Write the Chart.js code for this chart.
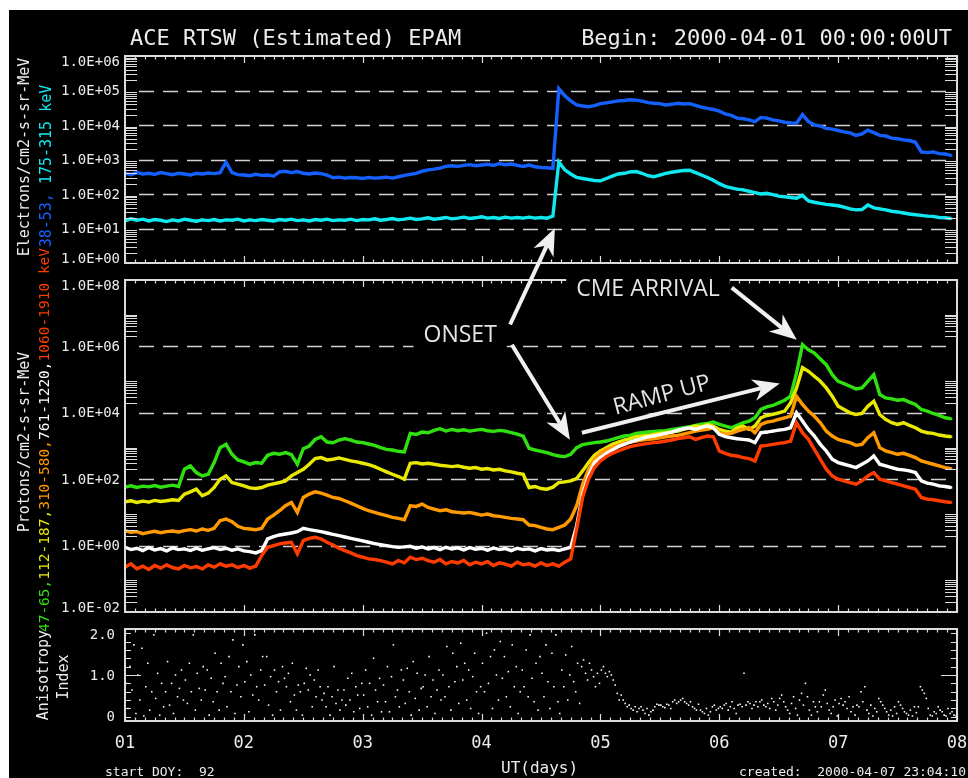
<!DOCTYPE html>
<html><head><meta charset="utf-8">
<script src="https://cdn.jsdelivr.net/npm/chart.js@4.4.1/dist/chart.umd.min.js"></script>
<style>
html,body{margin:0;padding:0;background:#fff;width:968px;height:778px;overflow:hidden;position:relative;}
#bg{position:absolute;left:9px;top:10px;width:959px;height:768px;background:#000;}
canvas{position:absolute;left:0;top:0;}
.t{position:absolute;color:#ececec;font-family:"DejaVu Sans Mono",monospace;white-space:pre;}
.rot{transform:rotate(-90deg);transform-origin:center center;text-align:center;width:500px;height:20px;line-height:20px;font-size:15px;}
</style></head>
<body>
<div id="bg"></div>
<canvas id="cE" width="968" height="778"></canvas>
<canvas id="cP" width="968" height="778"></canvas>
<canvas id="cA" width="968" height="778"></canvas>

<div class="t" style="left:130px;top:27px;font-size:22px;line-height:22px;">ACE RTSW (Estimated) EPAM</div>
<div class="t" style="right:16px;top:27px;font-size:22px;line-height:22px;">Begin: 2000-04-01 00:00:00UT</div>

<div class="t rot" style="left:-226px;top:147px;">Electrons/cm2-s-sr-MeV</div>
<div class="t rot" style="left:-204px;top:156px;"><span style="color:#1560ff">38-53,</span><span style="color:#10e8f0"> 175-315 keV</span></div>
<div class="t rot" style="left:-226px;top:432px;">Protons/cm2-s-sr-MeV</div>
<div class="t rot" style="left:-206px;top:430px;font-size:14.5px;"><span style="color:#30e010">47-65,</span><span style="color:#e8e800">112-187,</span><span style="color:#ff9a00">310-580,</span><span style="color:#ffffff">761-1220,</span><span style="color:#ff3c00">1060-1910 keV</span></div>
<div class="t rot" style="left:-207px;top:665px;">Anisotropy</div>
<div class="t rot" style="left:-187px;top:667px;">Index</div>

<div class="t" style="left:501px;top:759px;font-size:16px;line-height:18px;">UT(days)</div>
<div class="t" style="left:105px;top:764px;font-size:13px;line-height:15px;">start DOY:  92</div>
<div class="t" style="right:2px;top:764px;font-size:13px;line-height:15px;">created:  2000-04-07 23:04:10</div>

<script>
// ---------- time grid for electron / proton series (day of April 2000) ----------
const days = [
1.00,1.05,1.10,1.15,1.20,1.25,1.30,1.35,1.40,1.45,1.50,1.55,1.60,1.65,1.70,1.75,1.80,1.85,1.90,1.95,
2.00,2.05,2.10,2.15,2.20,2.25,2.30,2.35,2.40,2.45,2.50,2.55,2.60,2.65,2.70,2.75,2.80,2.85,2.90,2.95,
3.00,3.05,3.10,3.15,3.20,3.25,3.30,3.35,3.40,3.45,3.50,3.55,3.60,3.65,3.70,3.75,3.80,3.85,3.90,3.95,
4.00,4.05,4.10,4.15,4.20,4.25,4.30,4.35,4.40,4.45,4.50,4.55,4.60,4.65,4.70,4.75,4.80,4.85,4.90,4.95,
5.00,5.05,5.10,5.15,5.20,5.25,5.30,5.35,5.40,5.45,5.50,5.55,5.60,5.65,5.70,5.75,5.80,5.85,5.90,5.95,
6.00,6.05,6.10,6.15,6.20,6.25,6.30,6.35,6.40,6.45,6.50,6.55,6.60,6.65,6.70,6.75,6.80,6.85,6.90,6.95,
7.00,7.05,7.10,7.15,7.20,7.25,7.30,7.35,7.40,7.45,7.50,7.55,7.60,7.65,7.70,7.75,7.80,7.85,7.90,7.95];

// ---------- electron fluxes, log10(/cm2-s-sr-MeV) ----------
const electron38_53Log = [
2.60,2.56,2.62,2.58,2.60,2.57,2.62,2.59,2.56,2.60,2.58,2.55,2.60,2.58,2.61,2.59,2.62,2.92,2.62,2.56,
2.55,2.53,2.57,2.54,2.55,2.52,2.64,2.66,2.62,2.65,2.60,2.58,2.61,2.59,2.55,2.47,2.49,2.46,2.48,2.47,
2.45,2.48,2.46,2.47,2.49,2.46,2.50,2.54,2.57,2.60,2.66,2.70,2.72,2.75,2.80,2.82,2.80,2.83,2.85,2.82,
2.84,2.86,2.83,2.88,2.85,2.87,2.83,2.80,2.84,2.79,2.77,2.76,2.74,5.05,4.85,4.70,4.58,4.55,4.53,4.56,
4.62,4.64,4.67,4.70,4.71,4.73,4.72,4.69,4.65,4.63,4.62,4.58,4.60,4.63,4.61,4.62,4.57,4.52,4.48,4.45,
4.40,4.32,4.28,4.20,4.18,4.15,4.10,4.22,4.20,4.15,4.12,4.08,4.06,4.05,4.30,4.10,4.00,3.97,3.90,3.88,
3.84,3.80,3.77,3.70,3.74,3.85,3.78,3.70,3.68,3.62,3.60,3.57,3.55,3.50,3.22,3.20,3.22,3.17,3.16,3.12];
const electron175_315Log = [
1.22,1.28,1.24,1.27,1.22,1.26,1.24,1.20,1.25,1.22,1.27,1.24,1.21,1.25,1.23,1.26,1.22,1.25,1.24,1.27,
1.22,1.25,1.23,1.26,1.24,1.22,1.26,1.24,1.27,1.23,1.25,1.22,1.26,1.24,1.27,1.23,1.25,1.24,1.27,1.23,
1.26,1.25,1.28,1.24,1.26,1.29,1.25,1.27,1.30,1.26,1.28,1.31,1.27,1.29,1.32,1.28,1.30,1.33,1.29,1.31,
1.34,1.30,1.32,1.29,1.33,1.30,1.32,1.30,1.33,1.30,1.32,1.30,1.36,2.93,2.70,2.58,2.48,2.45,2.42,2.39,
2.38,2.45,2.52,2.58,2.60,2.64,2.65,2.60,2.53,2.50,2.55,2.60,2.63,2.66,2.68,2.69,2.62,2.55,2.48,2.40,
2.30,2.22,2.18,2.14,2.12,2.08,2.04,2.00,2.02,1.98,1.94,1.92,1.90,1.88,1.96,1.80,1.76,1.73,1.70,1.68,
1.66,1.62,1.57,1.54,1.55,1.68,1.60,1.57,1.54,1.50,1.48,1.45,1.42,1.40,1.38,1.36,1.35,1.32,1.31,1.29];

// ---------- proton fluxes, log10(/cm2-s-sr-MeV) ----------
const proton47_65Log = [
1.76,1.80,1.75,1.79,1.77,1.81,1.76,1.79,1.82,1.78,2.30,2.40,2.20,2.10,2.15,2.50,2.95,3.05,2.75,2.58,
2.52,2.45,2.50,2.48,2.72,2.78,2.75,2.80,2.74,2.45,2.92,3.00,3.20,3.28,3.12,3.10,3.18,3.22,3.18,3.12,
3.10,3.06,3.02,2.95,2.90,2.88,2.84,2.82,3.38,3.35,3.42,3.40,3.47,3.52,3.45,3.50,3.46,3.49,3.45,3.48,
3.50,3.46,3.44,3.47,3.45,3.40,3.36,3.30,2.93,2.88,2.84,2.80,2.74,2.70,2.68,2.75,2.95,3.04,3.07,3.10,
3.12,3.15,3.20,3.25,3.30,3.32,3.38,3.40,3.42,3.44,3.45,3.46,3.50,3.52,3.55,3.58,3.62,3.66,3.68,3.72,
3.65,3.60,3.55,3.62,3.70,3.75,3.85,4.10,4.18,4.22,4.30,4.38,4.50,5.20,6.05,5.90,5.80,5.62,5.45,5.15,
4.95,4.88,4.80,4.72,4.75,4.95,5.15,4.55,4.45,4.42,4.38,4.40,4.32,4.25,4.10,4.05,3.98,3.92,3.85,3.82];
const proton112_187Log = [
1.32,1.35,1.30,1.34,1.31,1.36,1.33,1.35,1.38,1.36,1.55,1.62,1.70,1.50,1.58,1.75,2.00,2.10,1.90,1.85,
1.80,1.74,1.72,1.75,1.82,1.86,1.90,1.95,2.10,2.20,2.30,2.45,2.62,2.65,2.58,2.60,2.64,2.60,2.55,2.52,
2.48,2.44,2.38,2.30,2.22,2.15,2.08,2.00,2.48,2.50,2.46,2.48,2.45,2.42,2.40,2.38,2.40,2.36,2.33,2.35,
2.30,2.32,2.28,2.30,2.25,2.22,2.18,2.15,1.75,1.78,1.72,1.70,1.76,1.90,1.92,1.95,2.02,2.25,2.50,2.72,
2.85,2.95,3.05,3.12,3.18,3.22,3.28,3.30,3.32,3.35,3.38,3.40,3.42,3.45,3.50,3.55,3.60,3.58,3.65,3.60,
3.50,3.45,3.42,3.55,3.60,3.50,3.60,3.85,3.92,3.95,4.00,4.05,4.30,4.75,5.36,5.25,5.10,4.95,4.75,4.50,
4.20,4.10,4.00,3.95,3.98,4.20,4.35,3.95,3.80,3.70,3.65,3.70,3.62,3.55,3.45,3.40,3.38,3.33,3.30,3.28];
const proton310_580Log = [
0.45,0.40,0.42,0.36,0.40,0.43,0.39,0.42,0.44,0.41,0.45,0.48,0.44,0.50,0.46,0.52,0.75,0.80,0.72,0.58,
0.52,0.50,0.48,0.52,0.80,0.92,1.05,1.20,1.30,1.00,1.45,1.55,1.62,1.58,1.52,1.45,1.42,1.35,1.28,1.20,
1.12,1.05,1.00,0.95,0.90,0.85,0.82,0.78,1.20,1.18,1.25,1.15,1.10,1.05,1.08,1.02,1.00,0.98,1.00,0.96,
0.92,0.95,0.90,0.88,0.85,0.82,0.80,0.78,0.62,0.60,0.55,0.50,0.48,0.55,0.62,0.80,1.20,1.85,2.30,2.60,
2.78,2.90,2.96,3.02,3.08,3.12,3.15,3.18,3.20,3.22,3.25,3.28,3.30,3.32,3.36,3.40,3.45,3.48,3.50,3.55,
3.40,3.35,3.38,3.45,3.50,3.55,3.40,3.65,3.72,3.75,3.80,3.85,3.90,4.50,4.25,4.05,3.90,3.70,3.45,3.30,
3.20,3.15,3.10,3.02,3.05,3.25,3.40,2.95,2.85,2.80,2.75,2.78,2.72,2.65,2.55,2.50,2.45,2.40,2.35,2.32];
const proton761_1220Log = [
-0.05,-0.12,-0.08,-0.15,-0.06,-0.13,-0.09,-0.16,-0.07,-0.12,-0.10,-0.15,-0.08,-0.14,-0.10,-0.06,-0.12,-0.08,-0.14,-0.10,
-0.16,-0.18,-0.22,-0.15,0.20,0.27,0.32,0.35,0.38,0.42,0.52,0.48,0.45,0.42,0.38,0.34,0.30,0.26,0.22,0.18,
0.14,0.10,0.06,0.03,0.00,-0.03,-0.05,-0.04,-0.02,-0.08,-0.04,-0.10,-0.06,-0.12,-0.05,-0.10,-0.07,-0.13,-0.06,-0.11,
-0.08,-0.14,-0.07,-0.12,-0.09,-0.15,-0.08,-0.12,-0.10,-0.16,-0.09,-0.13,-0.11,-0.15,-0.10,-0.05,0.60,1.55,2.10,2.50,
2.65,2.78,2.88,2.98,3.05,3.12,3.18,3.22,3.28,3.30,3.34,3.38,3.42,3.48,3.52,3.55,3.50,3.56,3.60,3.55,
3.35,3.28,3.25,3.22,3.20,3.18,3.10,3.40,3.42,3.45,3.48,3.50,3.55,4.00,3.75,3.50,3.30,3.05,2.85,2.60,
2.50,2.45,2.40,2.35,2.45,2.55,2.70,2.45,2.40,2.35,2.30,2.28,2.25,2.20,1.95,1.88,1.85,1.80,1.78,1.75];
const proton1060_1910Log = [
-0.65,-0.55,-0.70,-0.62,-0.72,-0.60,-0.68,-0.58,-0.66,-0.70,-0.60,-0.67,-0.63,-0.70,-0.58,-0.65,-0.55,-0.62,-0.58,-0.66,
-0.60,-0.68,-0.62,-0.30,-0.05,0.00,0.05,0.08,0.10,-0.25,0.15,0.22,0.25,0.20,0.10,0.02,-0.08,-0.15,-0.22,-0.30,
-0.35,-0.40,-0.42,-0.45,-0.50,-0.55,-0.45,-0.52,-0.35,-0.42,-0.38,-0.45,-0.50,-0.42,-0.55,-0.48,-0.52,-0.45,-0.58,-0.50,
-0.55,-0.48,-0.60,-0.52,-0.56,-0.62,-0.50,-0.58,-0.55,-0.62,-0.52,-0.60,-0.55,-0.62,-0.50,-0.40,0.50,1.45,2.00,2.35,
2.55,2.68,2.78,2.85,2.92,2.98,3.02,3.05,3.08,3.10,3.12,3.15,3.18,3.22,3.25,3.28,3.20,3.25,3.30,3.28,
2.85,2.78,2.72,2.70,2.65,2.62,2.55,3.00,3.02,3.05,3.08,3.10,3.15,3.70,3.40,3.20,2.90,2.60,2.30,2.10,
2.00,1.95,1.90,1.85,1.95,2.10,2.20,2.00,1.95,1.90,1.85,1.80,1.75,1.70,1.45,1.40,1.38,1.35,1.32,1.30];

// ---------- anisotropy index ----------
const anisoDay = [
1.008,1.025,1.042,1.058,1.075,1.092,1.108,1.125,1.142,1.158,1.175,1.192,1.208,1.225,1.242,1.258,1.275,1.292,1.308,1.325,1.342,1.358,1.375,1.392,1.408,1.425,1.442,1.458,1.475,1.492,1.508,1.525,1.542,1.558,1.575,1.592,1.608,1.625,1.642,1.658,1.675,1.692,1.708,1.725,1.742,1.758,1.775,1.792,1.808,1.825,1.842,1.858,1.875,1.892,1.908,1.925,1.942,1.958,1.975,1.992,
2.008,2.025,2.042,2.058,2.075,2.092,2.108,2.125,2.142,2.158,2.175,2.192,2.208,2.225,2.242,2.258,2.275,2.292,2.308,2.325,2.342,2.358,2.375,2.392,2.408,2.425,2.442,2.458,2.475,2.492,2.508,2.525,2.542,2.558,2.575,2.592,2.608,2.625,2.642,2.658,2.675,2.692,2.708,2.725,2.742,2.758,2.775,2.792,2.808,2.825,2.842,2.858,2.875,2.892,2.908,2.925,2.942,2.958,2.975,2.992,
3.008,3.025,3.042,3.058,3.075,3.092,3.108,3.125,3.142,3.158,3.175,3.192,3.208,3.225,3.242,3.258,3.275,3.292,3.308,3.325,3.342,3.358,3.375,3.392,3.408,3.425,3.442,3.458,3.475,3.492,3.508,3.525,3.542,3.558,3.575,3.592,3.608,3.625,3.642,3.658,3.675,3.692,3.708,3.725,3.742,3.758,3.775,3.792,3.808,3.825,3.842,3.858,3.875,3.892,3.908,3.925,3.942,3.958,3.975,3.992,
4.008,4.025,4.042,4.058,4.075,4.092,4.108,4.125,4.142,4.158,4.175,4.192,4.208,4.225,4.242,4.258,4.275,4.292,4.308,4.325,4.342,4.358,4.375,4.392,4.408,4.425,4.442,4.458,4.475,4.492,4.508,4.525,4.542,4.558,4.575,4.592,4.608,4.625,4.642,4.658,4.675,4.692,4.708,4.725,4.742,4.758,4.775,4.792,4.808,4.825,4.842,4.858,4.875,4.892,4.908,4.925,4.942,4.958,4.975,4.992,
5.008,5.025,5.042,5.058,5.075,5.092,5.108,5.125,5.142,5.158,5.175,5.192,5.208,5.225,5.242,5.258,5.275,5.292,5.308,5.325,5.342,5.358,5.375,5.392,5.408,5.425,5.442,5.458,5.475,5.492,5.508,5.525,5.542,5.558,5.575,5.592,5.608,5.625,5.642,5.658,5.675,5.692,5.708,5.725,5.742,5.758,5.775,5.792,5.808,5.825,5.842,5.858,5.875,5.892,5.908,5.925,5.942,5.958,5.975,5.992,
6.008,6.025,6.042,6.058,6.075,6.092,6.108,6.125,6.142,6.158,6.175,6.192,6.208,6.225,6.242,6.258,6.275,6.292,6.308,6.325,6.342,6.358,6.375,6.392,6.408,6.425,6.442,6.458,6.475,6.492,6.508,6.525,6.542,6.558,6.575,6.592,6.608,6.625,6.642,6.658,6.675,6.692,6.708,6.725,6.742,6.758,6.775,6.792,6.808,6.825,6.842,6.858,6.875,6.892,6.908,6.925,6.942,6.958,6.975,6.992,
7.008,7.025,7.042,7.058,7.075,7.092,7.108,7.125,7.142,7.158,7.175,7.192,7.208,7.225,7.242,7.258,7.275,7.292,7.308,7.325,7.342,7.358,7.375,7.392,7.408,7.425,7.442,7.458,7.475,7.492,7.508,7.525,7.542,7.558,7.575,7.592,7.608,7.625,7.642,7.658,7.675,7.692,7.708,7.725,7.742,7.758,7.775,7.792,7.808,7.825,7.842,7.858,7.875,7.892,7.908,7.925,7.942,7.958,7.975,7.992];
const anisoIndex = [
0.80,0.20,1.20,0.64,1.72,0.08,1.00,0.40,1.64,0.02, 0.72,1.28,0.16,0.60,1.96,0.44,1.04,0.04,0.80,0.24, 0.60,1.32,0.28,0.80,0.08,1.00,0.48,0.68,1.12,0.40,
0.88,0.32,1.28,0.60,1.96,0.16,1.04,0.68,0.40,1.20, 0.64,1.12,0.04,0.92,0.36,1.52,0.60,0.16,1.28,0.80, 0.96,0.24,1.44,0.60,1.84,0.08,0.76,1.20,0.48,1.72,
0.84,1.32,0.12,1.00,0.52,1.96,0.72,0.40,1.12,1.44, 0.76,1.44,0.28,0.96,0.04,1.12,0.60,0.84,0.16,1.20, 0.92,0.72,1.04,0.36,1.28,0.52,0.16,0.76,0.60,0.04,
0.80,1.16,0.64,1.00,0.24,0.88,0.48,1.12,0.72,0.40, 0.56,0.24,0.72,0.04,0.48,1.20,0.32,0.64,0.16,0.40, 0.64,0.28,0.92,0.40,1.04,0.12,0.72,0.52,0.20,0.80,
0.52,1.12,0.24,0.80,0.04,1.40,0.64,0.36,0.92,0.12, 0.76,0.36,1.20,0.12,0.96,1.72,0.48,0.64,0.24,1.12, 0.88,0.32,1.16,0.60,0.04,1.32,0.44,1.04,0.16,0.68,
0.72,1.00,0.24,1.44,0.48,0.88,0.08,0.64,1.12,0.40, 1.00,0.48,1.68,0.72,0.16,1.52,0.84,1.20,0.32,1.76, 0.88,1.28,0.40,1.12,0.20,0.96,1.52,0.60,0.08,0.72,
1.28,0.60,2.00,0.80,1.44,0.20,1.60,1.00,0.40,1.80, 0.92,1.44,0.48,1.08,0.24,1.72,0.72,1.20,0.08,0.60, 1.12,0.72,1.60,0.48,1.96,0.92,0.36,1.28,0.16,1.44,
1.04,0.48,1.72,0.84,0.20,1.52,0.72,1.96,0.36,0.08, 1.12,0.72,1.48,0.40,1.00,1.68,0.84,0.60,1.28,0.32, 1.20,1.36,1.04,0.88,1.28,1.12,0.96,0.72,1.04,0.80,
1.12,1.20,1.04,0.96,1.08,1.00,0.88,0.76,0.56,0.40, 0.52,0.40,0.32,0.24,0.28,0.20,0.16,0.24,0.12,0.20, 0.24,0.16,0.08,0.20,0.04,0.12,0.16,0.24,0.30,0.28,
0.28,0.24,0.22,0.30,0.28,0.20,0.36,0.40,0.32,0.36, 0.40,0.44,0.36,0.32,0.28,0.36,0.24,0.20,0.16,0.30, 0.16,0.12,0.08,0.20,0.04,0.12,0.24,0.28,0.16,0.20,
0.24,0.20,0.28,0.32,0.16,0.24,0.36,0.20,0.08,0.28, 0.30,0.24,1.04,0.28,0.36,0.32,0.20,0.28,0.36,0.24, 0.36,0.40,0.28,0.24,0.32,0.20,0.44,0.36,0.16,0.28,
0.44,0.52,0.36,0.24,0.16,0.08,0.32,0.48,0.20,0.04, 0.40,0.56,0.28,0.80,0.48,0.16,0.04,0.36,0.24,0.12, 0.36,0.24,0.52,0.64,0.32,0.16,0.08,0.24,0.40,0.02,
0.32,0.44,0.28,0.36,0.20,0.48,0.12,0.24,0.04,0.28, 0.24,0.60,0.36,0.72,0.16,0.08,0.28,0.02,0.20,0.12, 0.44,0.36,0.28,0.20,0.12,0.04,0.16,0.02,0.24,0.08,
0.36,0.28,0.20,0.12,0.08,0.04,0.16,0.02,0.24,0.10, 0.24,0.72,0.64,0.56,0.44,0.20,0.04,0.02,0.12,0.08, 0.24,0.16,0.12,0.04,0.02,0.20,0.08,0.12,0.04,0.02];

// ---------- axis ticks ----------
const dayTicks = [1,2,3,4,5,6,7,8];
const dayTickLabels = ['01','02','03','04','05','06','07','08'];
const electronTicks = [1e0,1e1,1e2,1e3,1e4,1e5,1e6];
const protonTicks = [1e-2,1e0,1e2,1e4,1e6,1e8];
const anisoTicks = [0,1,2];
const anisoTickLabels = ['0','1.0','2.0'];
const anisoMinor = [0,0.2,0.4,0.6,0.8,1.0,1.2,1.4,1.6,1.8,2.0];

// ---------- annotation anchors: [day, log10 value] ----------
const onsetTextAt = [3.82, 6.36];
const onsetUpFrom = [4.24, 6.66], onsetUpTo = [4.617, 1.01];   // tip on electron panel
const onsetDownFrom = [4.255, 6.05], onsetDownTo = [4.743, 3.19];
const cmeTextAt = [5.40, 7.74];
const cmeFrom = [6.105, 7.77], cmeTo = [6.652, 6.20];
const rampTextAt = [5.516, 4.55];
const rampFrom = [4.844, 3.40], rampTo = [6.509, 4.88];

// ---------- helpers ----------
const FONT = '"DejaVu Sans Mono", monospace';
const toPts = (t, lg) => t.map((d, i) => ({ x: d, y: Math.pow(10, lg[i]) }));
const fmtE = v => { const e = Math.round(Math.log10(v)); return '1.0E' + (e < 0 ? '-' : '+') + String(Math.abs(e)).padStart(2, '0'); };
const minorLog = ticks => { const out = []; ticks.slice(0, -1).forEach(t => { for (let k = 2; k <= 9; k++) out.push(t * k); }); return out; };

const framePlugin = {
  id: 'frame',
  beforeDatasetsDraw(chart, args, o) {
    const { ctx, chartArea: c } = chart, y = chart.scales.y;
    ctx.save();
    ctx.strokeStyle = '#d2d2d2'; ctx.lineWidth = 1.6; ctx.setLineDash([15, 9]); ctx.lineDashOffset = -6;
    (o.grid || []).forEach(v => {
      const py = Math.round(y.getPixelForValue(v)) + 0.5;
      ctx.beginPath(); ctx.moveTo(c.left + 8, py); ctx.lineTo(c.right - 10, py); ctx.stroke();
    });
    ctx.restore();
  },
  afterDatasetsDraw(chart, args, o) {
    const { ctx, chartArea: c } = chart, x = chart.scales.x, y = chart.scales.y;
    ctx.save();
    ctx.strokeStyle = '#dcdcdc'; ctx.lineWidth = 2;
    ctx.strokeRect(c.left, c.top, c.right - c.left, c.bottom - c.top);
    ctx.lineWidth = 1.2; ctx.beginPath();
    for (let k = 0; k <= 84; k++) {
      const px = Math.round(x.getPixelForValue(1 + k / 12)) + 0.5, len = (k % 12 === 0) ? 7 : 3.5;
      ctx.moveTo(px, c.top); ctx.lineTo(px, c.top + len);
      ctx.moveTo(px, c.bottom); ctx.lineTo(px, c.bottom - len);
    }
    (o.minor || []).forEach(v => {
      const py = Math.round(y.getPixelForValue(v)) + 0.5, len = (o.major || []).includes(v) ? o.majorLen : o.tickLen;
      ctx.moveTo(c.left, py); ctx.lineTo(c.left + len, py);
      ctx.moveTo(c.right, py); ctx.lineTo(c.right - len, py);
    });
    ctx.stroke();
    ctx.fillStyle = '#ececec'; ctx.font = '14px ' + FONT; ctx.textAlign = 'right'; ctx.textBaseline = 'middle';
    y.ticks.forEach(t => {
      let py = y.getPixelForValue(t.value) + 1;
      py = Math.max(c.top + 6, Math.min(c.bottom - 4, py));
      ctx.fillText(o.fmt(t.value), c.left - o.labelPad, py);
    });
    ctx.restore();
  }
};

function yScale(extra) {
  return Object.assign({
    display: true, ticks: { display: false }, grid: { display: false, drawTicks: false }, border: { display: false },
    afterFit: s => { s.width = 0; }
  }, extra);
}
function baseOptions(pad, y, frame, xAxis) {
  return {
    responsive: false, animation: false, events: [],
    layout: { padding: pad, autoPadding: false },
    plugins: { legend: { display: false }, tooltip: { enabled: false }, frame: frame },
    scales: { x: xAxis || { type: 'linear', min: 1, max: 8, display: false }, y: y }
  };
}
function band(label, t, lg, color, order) {
  return { label, data: toPts(t, lg), borderColor: color, backgroundColor: color, borderWidth: 3.4,
    pointRadius: 1.7, pointStyle: 'rect', pointBorderWidth: 0, showLine: true, tension: 0, order };
}

// ---------- electrons ----------
const elecChart = new Chart(document.getElementById('cE'), {
  type: 'line',
  data: { datasets: [
    band('38-53 keV', days, electron38_53Log, '#1560ff', 1),
    band('175-315 keV', days, electron175_315Log, '#10e8f0', 0)
  ] },
  options: baseOptions({ left: 125, right: 11, top: 56, bottom: 515 },
    yScale({ type: 'logarithmic', min: 1e0, max: 1e6, afterBuildTicks: s => { s.ticks = electronTicks.map(v => ({ value: v })); } }),
    { grid: [1e1, 1e2, 1e3, 1e4, 1e5], minor: minorLog(electronTicks), tickLen: 12, fmt: fmtE, labelPad: 5 }),
  plugins: [framePlugin]
});

// ---------- annotation drawing ----------
function arrow(ctx, x0, y0, x1, y1) {
  const a = Math.atan2(y1 - y0, x1 - x0), ca = Math.cos(a), sa = Math.sin(a);
  const L = 27, W = 11, N = 8;
  const bx = x1 - L * ca, by = y1 - L * sa, nx = x1 - (L - N) * ca, ny = y1 - (L - N) * sa;
  ctx.lineWidth = 4; ctx.lineCap = 'butt';
  ctx.beginPath(); ctx.moveTo(x0, y0); ctx.lineTo(nx, ny); ctx.stroke();
  ctx.beginPath(); ctx.moveTo(x1, y1);
  ctx.lineTo(bx - W * sa, by + W * ca); ctx.lineTo(nx, ny); ctx.lineTo(bx + W * sa, by - W * ca);
  ctx.closePath(); ctx.fill();
}
function boxedText(ctx, txt, x, y, ang) {
  ctx.save(); ctx.translate(x, y); ctx.rotate(ang);
  const w = ctx.measureText(txt).width + 20, h = 30;
  ctx.fillStyle = '#000'; ctx.fillRect(-w / 2, -h / 2, w, h);
  ctx.fillStyle = '#e4e4e4'; ctx.fillText(txt, 0, 1);
  ctx.restore();
}
const annotPlugin = {
  id: 'annot',
  afterDraw(chart) {
    const ctx = chart.ctx, xs = chart.scales.x, yp = chart.scales.y, ye = elecChart.scales.y;
    const P = (p, ys) => [xs.getPixelForValue(p[0]), ys.getPixelForValue(Math.pow(10, p[1]))];
    ctx.save();
    ctx.font = '23px "Open Sans", "Liberation Sans", sans-serif';
    ctx.textAlign = 'center'; ctx.textBaseline = 'middle';
    boxedText(ctx, 'ONSET', ...P(onsetTextAt, yp), 0);
    boxedText(ctx, 'CME ARRIVAL', ...P(cmeTextAt, yp), 0);
    boxedText(ctx, 'RAMP UP', ...P(rampTextAt, yp), -15 * Math.PI / 180);
    ctx.strokeStyle = '#f0f0f0'; ctx.fillStyle = '#f0f0f0';
    arrow(ctx, ...P(onsetUpFrom, yp), ...P(onsetUpTo, ye));
    arrow(ctx, ...P(onsetDownFrom, yp), ...P(onsetDownTo, yp));
    arrow(ctx, ...P(cmeFrom, yp), ...P(cmeTo, yp));
    arrow(ctx, ...P(rampFrom, yp), ...P(rampTo, yp));
    ctx.restore();
  }
};

// ---------- protons ----------
const protChart = new Chart(document.getElementById('cP'), {
  type: 'line',
  data: { datasets: [
    band('47-65 keV', days, proton47_65Log, '#30e010', 4),
    band('112-187 keV', days, proton112_187Log, '#e8e800', 3),
    band('310-580 keV', days, proton310_580Log, '#ff9a00', 2),
    band('761-1220 keV', days, proton761_1220Log, '#ffffff', 1),
    band('1060-1910 keV', days, proton1060_1910Log, '#ff3c00', 0)
  ] },
  options: baseOptions({ left: 125, right: 11, top: 280, bottom: 166 },
    yScale({ type: 'logarithmic', min: 1e-2, max: 1e8, afterBuildTicks: s => { s.ticks = protonTicks.map(v => ({ value: v })); } }),
    { grid: [1e0, 1e2, 1e4, 1e6], minor: minorLog(protonTicks), tickLen: 12, fmt: fmtE, labelPad: 5 }),
  plugins: [framePlugin, annotPlugin]
});

// ---------- anisotropy ----------
const anisoChart = new Chart(document.getElementById('cA'), {
  type: 'scatter',
  data: { datasets: [{ label: 'Anisotropy Index', data: anisoDay.map((d, i) => ({ x: d, y: anisoIndex[i] })),
    backgroundColor: '#ffffff', borderColor: '#ffffff', pointRadius: 1.1, pointStyle: 'rect', pointBorderWidth: 0, showLine: false }] },
  options: baseOptions({ left: 125, right: 11, top: 629, bottom: 0 },
    yScale({ type: 'linear', min: -0.1, max: 2.1, afterBuildTicks: s => { s.ticks = anisoTicks.map(v => ({ value: v })); } }),
    { grid: [], minor: anisoMinor, major: [1.0], tickLen: 6, majorLen: 16, fmt: v => anisoTickLabels[anisoTicks.indexOf(v)], labelPad: 10 },
    { type: 'linear', min: 1, max: 8, position: 'bottom',
      afterBuildTicks: s => { s.ticks = dayTicks.map(v => ({ value: v })); },
      afterFit: s => { s.height = 57; s.paddingLeft = 0; s.paddingRight = 0; },
      grid: { display: false, drawTicks: false }, border: { display: false },
      ticks: { autoSkip: false, maxRotation: 0, padding: 12, color: '#ececec', font: { family: FONT, size: 17 },
        callback: v => dayTickLabels[dayTicks.indexOf(v)] } }),
  plugins: [framePlugin]
});
</script>
</body></html>
